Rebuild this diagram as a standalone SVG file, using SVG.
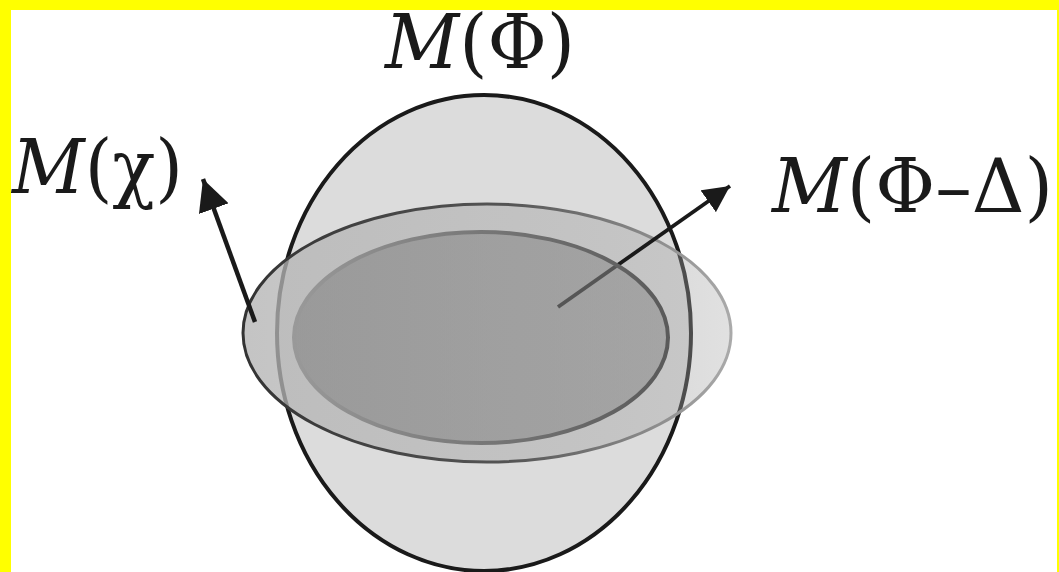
<svg xmlns="http://www.w3.org/2000/svg" width="1059" height="572" viewBox="0 0 1059 572">
  <defs>
    <linearGradient id="bandFill" gradientUnits="userSpaceOnUse" x1="243" y1="0" x2="731" y2="0">
      <stop offset="0" stop-color="#b5b5b5" stop-opacity="0.8"/>
      <stop offset="0.5" stop-color="#b0b0b0" stop-opacity="0.6"/>
      <stop offset="1" stop-color="#a0a0a0" stop-opacity="0.32"/>
    </linearGradient>
    <linearGradient id="bandStroke" gradientUnits="userSpaceOnUse" x1="243" y1="0" x2="731" y2="0">
      <stop offset="0" stop-color="#333333"/>
      <stop offset="0.55" stop-color="#555555"/>
      <stop offset="1" stop-color="#aaaaaa"/>
    </linearGradient>
    <linearGradient id="innerFill" gradientUnits="userSpaceOnUse" x1="294" y1="0" x2="668" y2="0">
      <stop offset="0" stop-color="#808080" stop-opacity="0.58"/>
      <stop offset="1" stop-color="#888888" stop-opacity="0.54"/>
    </linearGradient>
    <linearGradient id="innerStroke" gradientUnits="userSpaceOnUse" x1="294" y1="0" x2="668" y2="0">
      <stop offset="0" stop-color="#999999"/>
      <stop offset="0.5" stop-color="#777777"/>
      <stop offset="1" stop-color="#5a5a5a"/>
    </linearGradient>
    <marker id="head" viewBox="0 0 10 10" refX="10" refY="5" markerWidth="7" markerHeight="7" markerUnits="strokeWidth" orient="auto">
      <path d="M0,0 L10,5 L0,10 Z" fill="#1a1a1a"/>
    </marker>
    <style>
      .arrow { stroke: #1a1a1a; fill: none; stroke-linecap: butt; }
      .lbl { font-family: "DejaVu Serif", serif; font-size: 74px; fill: #1a1a1a; }
    </style>
  </defs>

  <rect x="0" y="0" width="1059" height="572" fill="#ffff00"/>
  <rect x="11" y="10" width="1046" height="562" fill="#ffffff"/>

  <g id="node-M-Phi">
    <ellipse cx="484" cy="333" rx="207" ry="238" fill="#dcdcdc" stroke="#1a1a1a" stroke-width="4"/>
  </g>

  <g id="node-M-chi">
    <ellipse cx="487" cy="333" rx="244" ry="129" fill="url(#bandFill)" stroke="url(#bandStroke)" stroke-width="3"/>
  </g>

  <g id="connectors">
    <line class="arrow" x1="255" y1="322" x2="203" y2="179" stroke-width="4.5" marker-end="url(#head)"/>
    <line class="arrow" x1="558" y1="307" x2="730" y2="186" stroke-width="3.8" marker-end="url(#head)"/>
  </g>

  <g id="node-M-Phi-Delta">
    <ellipse cx="481" cy="337.5" rx="187" ry="105.5" fill="url(#innerFill)" stroke="url(#innerStroke)" stroke-width="4"/>
  </g>

  <g id="labels">
    <text class="lbl" x="385" y="68" textLength="190" lengthAdjust="spacingAndGlyphs"><tspan font-style="italic">M</tspan>(Φ)</text>
    <text class="lbl" x="12" y="193" textLength="171" lengthAdjust="spacingAndGlyphs"><tspan font-style="italic">M</tspan>(χ)</text>
    <text class="lbl" x="772" y="212" textLength="281" lengthAdjust="spacingAndGlyphs"><tspan font-style="italic">M</tspan>(Φ–Δ)</text>
  </g>
</svg>
